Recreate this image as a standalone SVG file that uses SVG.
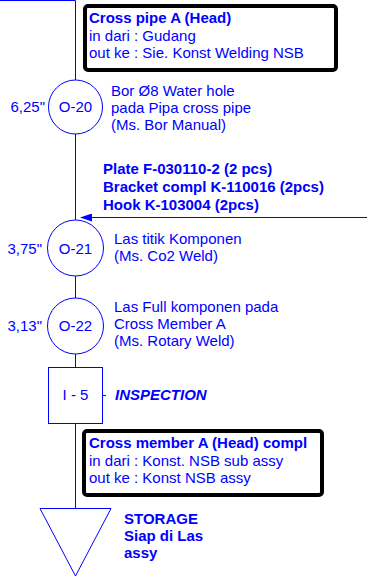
<svg xmlns="http://www.w3.org/2000/svg" width="367" height="576" viewBox="0 0 367 576">
<style>
text{font-family:"Liberation Sans",Arial,sans-serif;font-size:15px;fill:#0000ff}
.b{font-weight:bold}
.c{text-anchor:middle}
.r{text-anchor:end}
.ln{stroke:#0000ff;stroke-width:1;fill:none}
.sh{stroke:#0000ff;stroke-width:1;fill:#fff}
.box{stroke:#000;stroke-width:4;fill:#fff}
</style>
<defs>
<marker id="ah" markerWidth="12" markerHeight="8" refX="11" refY="4" orient="auto" markerUnits="userSpaceOnUse">
<path d="M0,0 L12,4 L0,8 Z" fill="#0000ff"/>
</marker>
</defs>
<g id="connectors">
<path class="ln" d="M0,0.5 H75.5 V508"/>
<path class="ln" d="M367,217.5 H81" marker-end="url(#ah)"/>
<path class="ln" d="M103,395.5 H106"/>
</g>
<g id="info-top">
<rect class="box" x="85" y="6" width="251" height="64" rx="3"/>
<text class="b" x="89" y="23">Cross pipe A (Head)</text>
<text x="89" y="41">in dari : Gudang</text>
<text x="89" y="58">out ke : Sie. Konst Welding NSB</text>
</g>
<g id="O-20">
<circle class="sh" cx="75.5" cy="107" r="27"/>
<text class="c" x="75.5" y="112">O-20</text>
<text class="r" x="45" y="112">6,25"</text>
<text x="111" y="96">Bor Ø8 Water hole</text>
<text x="111" y="113">pada Pipa cross pipe</text>
<text x="111" y="130">(Ms. Bor Manual)</text>
</g>
<g id="parts">
<text class="b" x="103" y="174">Plate F-030110-2 (2 pcs)</text>
<text class="b" x="103" y="192">Bracket compl K-110016 (2pcs)</text>
<text class="b" x="103" y="210">Hook K-103004 (2pcs)</text>
</g>
<g id="O-21">
<circle class="sh" cx="75.5" cy="248" r="28"/>
<text class="c" x="75.5" y="254">O-21</text>
<text class="r" x="42" y="254">3,75"</text>
<text x="114" y="244">Las titik Komponen</text>
<text x="114" y="261">(Ms. Co2 Weld)</text>
</g>
<g id="O-22">
<circle class="sh" cx="75.5" cy="326" r="28"/>
<text class="c" x="75.5" y="331">O-22</text>
<text class="r" x="42" y="331">3,13"</text>
<text x="114" y="312">Las Full komponen pada</text>
<text x="114" y="329">Cross Member A</text>
<text x="114" y="346">(Ms. Rotary Weld)</text>
</g>
<g id="I-5">
<rect class="sh" x="48.5" y="367.5" width="54" height="56"/>
<text class="c" x="75.5" y="400">I - 5</text>
<text class="b" x="115" y="400" font-style="italic">INSPECTION</text>
</g>
<g id="info-bottom">
<rect class="box" x="84" y="431" width="238" height="64" rx="3"/>
<text class="b" x="89" y="448">Cross member A (Head) compl</text>
<text x="89" y="466">in dari : Konst. NSB sub assy</text>
<text x="89" y="483">out ke : Konst NSB assy</text>
</g>
<g id="storage">
<path class="sh" d="M40,508.5 H111 L75.5,576 Z"/>
<text class="b" x="124" y="524">STORAGE</text>
<text class="b" x="124" y="541">Siap di Las</text>
<text class="b" x="124" y="558">assy</text>
</g>
</svg>
